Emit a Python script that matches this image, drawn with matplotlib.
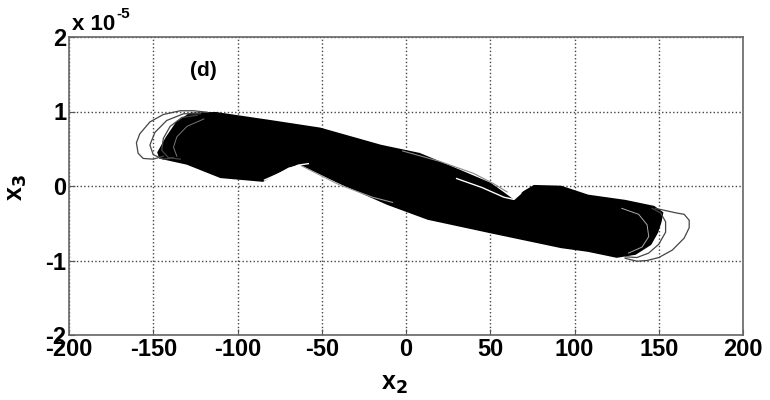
import matplotlib
matplotlib.use("Agg")
import matplotlib.pyplot as plt

plt.rcParams['font.family'] = ['Liberation Sans', 'DejaVu Sans']

# y values are in units of 1e-5
# outline of the dense attractor band (upper edge left->right, then lower edge right->left)
band_top_x = [-147, -142, -136, -128, -113, -80, -51, -15, 8, 25, 50, 58, 64, 70, 76, 92, 108, 130, 147, 152]
band_top_y = [0.45, 0.65, 0.85, 0.97, 0.98, 0.87, 0.77, 0.54, 0.43, 0.27, 0.03, -0.10, -0.20, -0.08, 0.0, -0.01, -0.13, -0.20, -0.28, -0.36]
band_bot_x = [151, 149, 145, 136, 125, 108, 92, 50, 13, -11, -40, -63, -70, -85, -110, -130, -146]
band_bot_y = [-0.48, -0.62, -0.78, -0.91, -0.95, -0.87, -0.82, -0.62, -0.44, -0.24, 0.05, 0.30, 0.26, 0.07, 0.12, 0.30, 0.38]

# outer single loops (thin traces)
loop_left1_x = [-118, -126, -134, -144, -152, -158, -160, -159, -156, -150, -144]
loop_left1_y = [0.99, 1.01, 1.01, 0.96, 0.86, 0.70, 0.58, 0.44, 0.37, 0.36, 0.40]
loop_left2_x = [-122, -132, -142, -149, -152, -150, -144, -138]
loop_left2_y = [0.97, 0.97, 0.88, 0.72, 0.55, 0.42, 0.36, 0.38]
loop_left3_x = [-124, -133, -140, -144, -145, -141, -134]
loop_left3_y = [0.95, 0.92, 0.80, 0.64, 0.48, 0.38, 0.36]
loop_right_x = [148, 154, 160, 165, 168, 168, 165, 158, 150, 143, 137, 130]
loop_right_y = [-0.30, -0.33, -0.36, -0.38, -0.46, -0.56, -0.70, -0.86, -0.96, -1.00, -1.01, -0.97]
loop_right2_x = [146, 151, 154, 154, 150, 144, 137, 130]
loop_right2_y = [-0.30, -0.36, -0.48, -0.62, -0.78, -0.90, -0.96, -0.95]

# light traces inside the band (gaps near the kinks and end loops)
gap_left_x = [-84, -74, -64, -58]
gap_left_y = [0.08, 0.18, 0.28, 0.30]
gap_left2_x = [-62, -40, -20, -8]
gap_left2_y = [0.27, 0.02, -0.15, -0.22]
gap_right_x = [30, 45, 58, 64, 68]
gap_right_y = [0.10, -0.02, -0.15, -0.18, -0.10]
edge_top_x = [-2, 20, 40, 52, 60]
edge_top_y = [0.47, 0.33, 0.17, 0.03, -0.08]
stria_x = [128, 138, 143, 144, 140, 132]
stria_y = [-0.30, -0.38, -0.52, -0.68, -0.82, -0.90]
stria2_x = [-120, -130, -136, -138, -136]
stria2_y = [0.90, 0.80, 0.66, 0.52, 0.40]

xticks = [-200, -150, -100, -50, 0, 50, 100, 150, 200]
yticks = [-2, -1, 0, 1, 2]

fig = plt.figure(figsize=(7.7, 4.0), dpi=100)
ax = fig.add_axes([0.0896, 0.1625, 0.8755, 0.745])

poly_x = band_top_x + band_bot_x
poly_y = band_top_y + band_bot_y
ax.fill(poly_x, poly_y, color='black', lw=1.5, zorder=3)

for lx, ly in [(loop_left1_x, loop_left1_y), (loop_left2_x, loop_left2_y),
               (loop_left3_x, loop_left3_y), (loop_right_x, loop_right_y),
               (loop_right2_x, loop_right2_y)]:
    ax.plot(lx, ly, color='#444444', lw=0.9, zorder=4)

ax.plot(gap_left_x, gap_left_y, color='white', lw=1.0, zorder=5)
ax.plot(gap_left2_x, gap_left2_y, color='#999999', lw=0.8, zorder=5)
ax.plot(gap_right_x, gap_right_y, color='white', lw=1.0, zorder=5)
ax.plot(edge_top_x, edge_top_y, color='#888888', lw=0.8, zorder=5)
ax.plot(stria_x, stria_y, color='#aaaaaa', lw=0.7, zorder=5)
ax.plot(stria2_x, stria2_y, color='#777777', lw=0.7, zorder=5)

ax.set_xlim(-200, 200)
ax.set_ylim(-2, 2)
ax.set_xticks(xticks)
ax.set_yticks(yticks)
ax.set_xticklabels([str(t) for t in xticks], fontsize=17, fontweight='bold')
ax.set_yticklabels([str(t) for t in yticks], fontsize=17, fontweight='bold')
ax.tick_params(direction='in', length=4, color='#555555', pad=2)
ax.grid(True, linestyle=':', color='#444444', lw=1.0)
ax.set_axisbelow(True)
for s in ax.spines.values():
    s.set_color('#666666')
    s.set_linewidth(1.2)

ax.text(-120, 1.55, '(d)', fontsize=15, fontweight='bold', ha='center', va='center')
fig.text(0.093, 0.925, 'x 10', fontsize=16, fontweight='bold', ha='left', va='baseline')
fig.text(0.151, 0.955, '-5', fontsize=11, fontweight='bold', ha='left', va='baseline')
fig.text(0.512, 0.04, r'x$_{\mathbf{2}}$', fontsize=18, fontweight='bold', ha='center', va='center')
fig.text(0.022, 0.53, r'x$_{\mathbf{3}}$', fontsize=18, fontweight='bold', ha='center', va='center', rotation=90)

fig.savefig('out.png', dpi=100)
